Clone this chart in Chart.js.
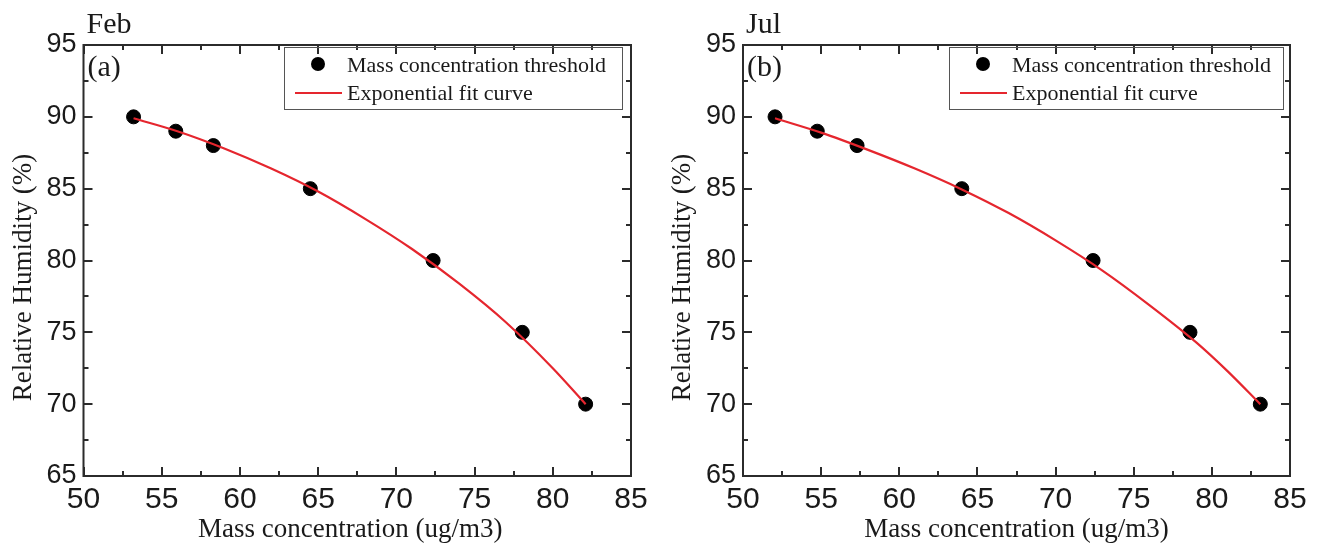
<!DOCTYPE html>
<html>
<head>
<meta charset="utf-8">
<script src="https://cdn.jsdelivr.net/npm/chart.js@4.4.1/dist/chart.umd.min.js"></script>
<style>
  html, body { margin: 0; padding: 0; background: #fff; }
  #wrap { position: relative; width: 1323px; height: 548px; overflow: hidden; }
  canvas { position: absolute; top: 0; }
  #feb { left: 0; }
  #jul { left: 660px; }
</style>
</head>
<body>
<div id="wrap">
  <canvas id="feb" width="661" height="548"></canvas>
  <canvas id="jul" width="663" height="548"></canvas>
</div>
<script>
// RH levels shared by both months
const humidity = [90, 89, 88, 85, 80, 75, 70];

// mass concentration thresholds (ug/m3)
const febMass = [53.2, 55.9, 58.3, 64.5, 72.35, 78.05, 82.1];
const julMass = [52.05, 54.75, 57.3, 64.0, 72.4, 78.6, 83.1];

// fitted curves
const febFitX = [53.2, 56, 59, 62, 65, 68, 71, 74, 77, 80, 82.1];
const febFitY = [89.9, 89.0, 87.8, 86.4, 84.8, 82.9, 80.8, 78.4, 75.7, 72.5, 70.0];
const julFitX = [52.05, 55, 58, 61, 64, 67, 70, 73, 76, 79, 81, 83.1];
const julFitY = [89.9, 88.9, 87.7, 86.4, 84.95, 83.3, 81.4, 79.3, 76.9, 74.3, 72.3, 70.0];

const xTicks = { min: 50, max: 85, step: 5 };
const yTicks = { min: 65, max: 95, step: 5 };

const RED = '#e5262e';
const SERIF = '"Liberation Serif", "Times New Roman", serif';
const SANS = '"Liberation Sans", Arial, sans-serif';

// frame, inward ticks, titles and legend for one panel
function decor(p) {
    return {
        id: 'decor',
        afterDraw(chart) {
            const { ctx, chartArea: a } = chart;
            const sx = chart.scales.x, sy = chart.scales.y;
            ctx.save();

            // ticks (major every 5, minor every 2.5), all four sides
            ctx.strokeStyle = '#2b2b2b';
            ctx.lineWidth = 2;
            ctx.beginPath();
            for (let v = xTicks.min; v <= xTicks.max; v += 2.5) {
                const px = Math.round(sx.getPixelForValue(v));
                const len = v % 5 === 0 ? 9 : 5;
                ctx.moveTo(px, a.bottom); ctx.lineTo(px, a.bottom - len);
                ctx.moveTo(px, a.top); ctx.lineTo(px, a.top + len);
            }
            for (let v = yTicks.min; v <= yTicks.max; v += 2.5) {
                const py = Math.round(sy.getPixelForValue(v));
                const len = v % 5 === 0 ? 9 : 5;
                ctx.moveTo(a.left, py); ctx.lineTo(a.left + len, py);
                ctx.moveTo(a.right, py); ctx.lineTo(a.right - len, py);
            }
            ctx.stroke();
            ctx.strokeRect(a.left, a.top, a.right - a.left, a.bottom - a.top);

            // month + panel letter
            ctx.fillStyle = '#1a1a1a';
            ctx.textAlign = 'left';
            ctx.textBaseline = 'alphabetic';
            ctx.font = '30px ' + SERIF;
            ctx.fillText(p.month, a.left + 3, 33);
            ctx.fillText(p.letter, a.left + 4, 76);

            // axis titles
            ctx.font = '27px ' + SERIF;
            ctx.textAlign = 'center';
            ctx.fillText('Mass concentration (ug/m3)', (a.left + a.right) / 2 + p.xTitleShift, 537);
            ctx.save();
            ctx.translate(a.left - 60, (a.top + a.bottom) / 2 + 17);
            ctx.rotate(-Math.PI / 2);
            ctx.textBaseline = 'middle';
            ctx.fillText('Relative Humidity (%)', 0, 0);
            ctx.restore();

            // legend
            const bx = p.legendLeft, by = a.top + 2, bw = p.legendWidth, bh = 62;
            ctx.lineWidth = 1;
            ctx.strokeStyle = '#555';
            ctx.strokeRect(bx + 0.5, by + 0.5, bw, bh);
            ctx.fillStyle = '#000';
            ctx.beginPath();
            ctx.arc(bx + 34, by + 17, 7, 0, Math.PI * 2);
            ctx.fill();
            ctx.strokeStyle = RED;
            ctx.lineWidth = 2;
            ctx.beginPath();
            ctx.moveTo(bx + 11, by + 46); ctx.lineTo(bx + 58, by + 46);
            ctx.stroke();
            ctx.fillStyle = '#1a1a1a';
            ctx.textAlign = 'left';
            ctx.font = '22px ' + SERIF;
            ctx.fillText('Mass concentration threshold', bx + 63, by + 25);
            ctx.fillText('Exponential fit curve', bx + 63, by + 53);

            ctx.restore();
        }
    };
}

function makePanel(id, p) {
    return new Chart(document.getElementById(id), {
        type: 'scatter',
        data: {
            datasets: [
                {
                    type: 'line',
                    label: 'Exponential fit curve',
                    data: p.fitX.map((x, i) => ({ x: x, y: p.fitY[i] })),
                    borderColor: RED,
                    borderWidth: 2.2,
                    pointRadius: 0,
                    fill: false,
                    cubicInterpolationMode: 'monotone',
                    order: 0
                },
                {
                    label: 'Mass concentration threshold',
                    data: p.mass.map((x, i) => ({ x: x, y: humidity[i] })),
                    backgroundColor: '#000',
                    borderColor: '#000',
                    pointRadius: 7,
                    order: 1
                }
            ]
        },
        options: {
            responsive: false,
            animation: false,
            events: [],
            layout: { padding: { left: 0, top: 45, right: p.padRight, bottom: 0 } },
            scales: {
                x: {
                    type: 'linear',
                    min: xTicks.min, max: xTicks.max,
                    ticks: { stepSize: xTicks.step, padding: 6, color: '#1a1a1a', font: { family: SANS, size: 30 } },
                    grid: { display: false, drawTicks: false },
                    border: { display: false },
                    afterFit: s => { s.height = 72; }
                },
                y: {
                    min: yTicks.min, max: yTicks.max,
                    ticks: { stepSize: yTicks.step, padding: 7, color: '#1a1a1a', font: { family: SANS, size: 27 } },
                    grid: { display: false, drawTicks: false },
                    border: { display: false },
                    afterFit: s => { s.width = p.axisLeft; }
                }
            },
            plugins: { legend: { display: false }, tooltip: { enabled: false } }
        },
        plugins: [decor(p)]
    });
}

makePanel('feb', {
    month: 'Feb', letter: '(a)', mass: febMass, fitX: febFitX, fitY: febFitY,
    axisLeft: 83.5, padRight: 30, legendLeft: 284, legendWidth: 338, xTitleShift: -7
});
makePanel('jul', {
    month: 'Jul', letter: '(b)', mass: julMass, fitX: julFitX, fitY: julFitY,
    axisLeft: 83, padRight: 33, legendLeft: 289, legendWidth: 334, xTitleShift: 0
});
</script>
</body>
</html>
